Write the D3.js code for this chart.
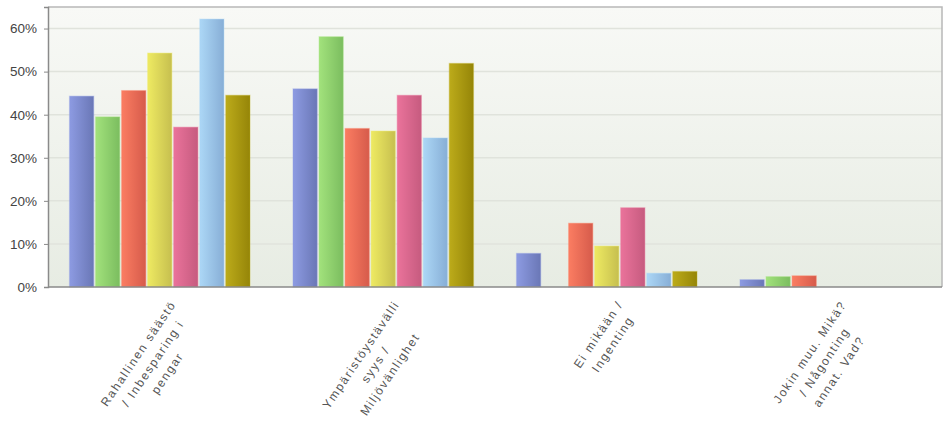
<!DOCTYPE html>
<html><head><meta charset="utf-8">
<script src="https://cdnjs.cloudflare.com/ajax/libs/d3/7.8.5/d3.min.js"></script>
<style>
html,body{margin:0;padding:0;background:#fff;}
svg{display:block;font-family:Arial,"Liberation Sans",sans-serif;}
</style></head>
<body><svg id="chart" width="946" height="422"></svg>
<script>
const categories = [
  ["Rahallinen säästö", "/ Inbesparing i", "pengar"],
  ["Ympäristöystävälli", "syys /", "Miljövänlighet"],
  ["Ei mikään /", "Ingenting"],
  ["Jokin muu. Mikä?", "/ Någonting", "annat. Vad?"]
];
const seriesNames = ["S1","S2","S3","S4","S5","S6","S7"];
const s1 = [44.3, 46.0, 7.8, 1.7];
const s2 = [39.5, 58.1, 0, 2.4];
const s3 = [45.6, 36.8, 14.8, 2.6];
const s4 = [54.3, 36.2, 9.5, 0];
const s5 = [37.1, 44.5, 18.4, 0];
const s6 = [62.2, 34.6, 3.2, 0];
const s7 = [44.5, 51.9, 3.6, 0];
const seriesValues = [s1,s2,s3,s4,s5,s6,s7];
const yTicks = [0,10,20,30,40,50,60];
const colorsLight = ["#8d9be2","#a2e27c","#fb7d62","#eeea62","#ea739b","#acd7f6","#bcab1a"];
const colorsDark  = ["#6a77b6","#7bbd5f","#d65b4b","#c6bf4f","#c65b7f","#87aed6","#958508"];

const svg = d3.select("#chart");
const L = 48, R = 942, T = 7, B = 287;
const keys = categories.map((c,i)=>"c"+i);

const x0 = d3.scaleBand().domain(keys).range([L,R]).paddingInner(0).paddingOuter(0);
const inner = 21.5;
const x1 = d3.scaleBand().domain(seriesNames).range([inner, x0.bandwidth()-inner]).paddingInner(0.07).paddingOuter(0);
const y = d3.scaleLinear().domain([0,65]).range([B,T]);

const defs = svg.append("defs");
const bg = defs.append("linearGradient").attr("id","bg").attr("x1",0).attr("y1",0).attr("x2",0).attr("y2",1);
bg.append("stop").attr("offset","0%").attr("stop-color","#f8f9f6");
bg.append("stop").attr("offset","100%").attr("stop-color","#e7ece3");
seriesNames.forEach((s,i)=>{
  const g = defs.append("linearGradient").attr("id","g"+i).attr("x1",0).attr("y1",0).attr("x2",1).attr("y2",0);
  g.append("stop").attr("offset","0%").attr("stop-color",colorsLight[i]);
  g.append("stop").attr("offset","100%").attr("stop-color",colorsDark[i]);
});

svg.append("rect").attr("x",L).attr("y",T).attr("width",R-L).attr("height",B-T).attr("fill","url(#bg)");

// gridlines
svg.append("g").selectAll("line").data(yTicks.filter(d=>d>0)).join("line")
  .attr("x1",L).attr("x2",R).attr("y1",d=>y(d)).attr("y2",d=>y(d))
  .attr("stroke","#e0e3dc").attr("stroke-width",1.5);

// frame top/right
svg.append("path").attr("d",`M${L},${T}H${R}V${B}`).attr("fill","none").attr("stroke","#b8b8b8").attr("stroke-width",1.5);

// bars
const groups = svg.append("g").selectAll("g").data(keys).join("g")
  .attr("transform",d=>`translate(${x0(d)},0)`);
groups.selectAll("rect").data((d,ci)=>seriesNames.map((s,si)=>({si, v:seriesValues[si][ci]})).filter(o=>o.v>0)).join("rect")
  .attr("x",o=>x1(seriesNames[o.si]))
  .attr("width",x1.bandwidth())
  .attr("y",o=>y(o.v))
  .attr("height",o=>B-y(o.v))
  .attr("fill",o=>`url(#g${o.si})`)
  .attr("stroke",o=>colorsLight[o.si]).attr("stroke-opacity",0.35).attr("stroke-width",1.2);

// y axis
const yAxis = d3.axisLeft(y).tickValues(yTicks).tickFormat(d=>d+"%").tickSize(4).tickPadding(7);
const ya = svg.append("g").attr("transform",`translate(${L},0)`).call(yAxis);
ya.select(".domain").attr("stroke","#8a8a8a").attr("stroke-width",1.5);
ya.selectAll(".tick line").attr("stroke","#8a8a8a");
ya.selectAll(".tick text").attr("fill","#444").style("font-size","13.5px").style("font-family","Arial,'Liberation Sans',sans-serif");

// x axis baseline
svg.append("line").attr("x1",L).attr("x2",R).attr("y1",B).attr("y2",B).attr("stroke","#8a8a8a").attr("stroke-width",1.5);

// category labels
const lineH = 17.5, ang = -56;
keys.forEach((k,ci)=>{
  const cx = x0(k) + x0.bandwidth()/2;
  const g = svg.append("g").attr("transform",`translate(${cx+6},${B+10}) rotate(${ang})`);
  const texts = categories[ci].map((t,li)=>g.append("text").text(t)
      .attr("text-anchor","middle")
      .attr("fill","#555").style("font-size","12px").style("letter-spacing","1.7px")
      .attr("y", li*lineH + 13));
  const maxW = d3.max(texts, t=>t.node().getComputedTextLength());
  texts.forEach(t=>t.attr("x",-maxW/2));
});
</script></body></html>
